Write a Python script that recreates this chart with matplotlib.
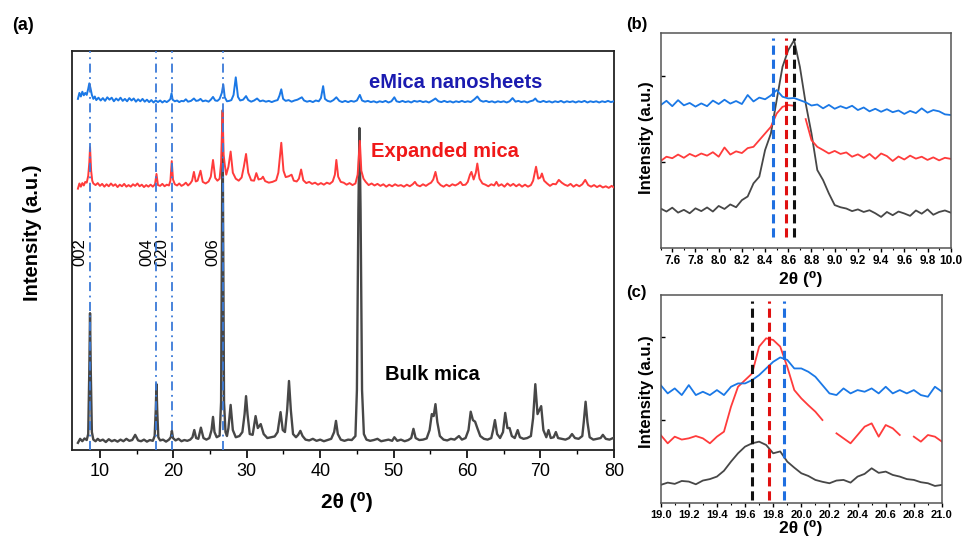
import numpy as np
import matplotlib
matplotlib.use("Agg")
import matplotlib.pyplot as plt
from matplotlib.ticker import MultipleLocator

plt.rcParams['font.family'] = ['Liberation Sans', 'DejaVu Sans']

# ---------------- (a) full XRD patterns (stacked, arbitrary units) ----------------
bulk_x = [7.0, 7.3, 7.6, 7.9, 8.2, 8.4, 8.55, 8.65, 8.75, 8.9, 9.1, 9.4, 9.7, 10.0, 10.4, 10.8, 11.2, 11.6,
          12.0, 12.4, 12.8, 13.2, 13.6, 14.0, 14.4, 14.8, 15.2, 15.6, 16.0, 16.4, 16.8, 17.2, 17.45, 17.6,
          17.7, 17.8, 17.95, 18.2, 18.6, 19.0, 19.4, 19.65, 19.8, 19.95, 20.3, 20.7, 21.1, 21.5, 21.9, 22.3,
          22.6, 22.85, 23.1, 23.4, 23.75, 24.1, 24.5, 24.9, 25.2, 25.4, 25.6, 25.9, 26.3, 26.5, 26.6, 26.7,
          26.8, 26.9, 27.1, 27.3, 27.5, 27.8, 28.1, 28.5, 29.0, 29.4, 29.7, 29.9, 30.1, 30.4, 30.8, 31.2,
          31.5, 31.9, 32.3, 32.8, 33.3, 33.8, 34.2, 34.6, 34.9, 35.2, 35.5, 35.75, 36.0, 36.3, 36.7, 37.0,
          37.3, 37.6, 38.0, 38.5, 39.0, 39.5, 40.0, 40.5, 41.0, 41.5, 41.9, 42.15, 42.4, 42.8, 43.3, 43.8,
          44.3, 44.8, 45.0, 45.2, 45.35, 45.5, 45.7, 45.95, 46.3, 46.8, 47.3, 47.8, 48.3, 48.8, 49.3, 49.8,
          50.1, 50.5, 51.0, 51.5, 52.0, 52.4, 52.7, 53.0, 53.5, 54.0, 54.5, 54.9, 55.2, 55.45, 55.7, 55.95,
          56.3, 56.8, 57.3, 57.8, 58.3, 58.9, 59.3, 59.8, 60.2, 60.5, 60.8, 61.1, 61.4, 61.8, 62.3, 62.8,
          63.3, 63.55, 63.8, 64.1, 64.5, 64.9, 65.2, 65.5, 65.8, 66.1, 66.5, 66.9, 67.2, 67.7, 68.2, 68.7,
          69.0, 69.3, 69.6, 70.1, 70.4, 70.8, 71.1, 71.4, 71.8, 72.1, 72.4, 72.9, 73.4, 73.9, 74.3, 74.7,
          75.2, 75.7, 75.9, 76.15, 76.4, 76.7, 77.2, 77.7, 78.2, 78.5, 78.9, 79.4, 79.9]
bulk_y = [1.8, 2.8, 2.2, 2.9, 2.5, 4.0, 20.0, 34.3, 20.0, 4.5, 2.6, 2.2, 2.8, 2.3, 2.6, 2.0, 2.7, 2.2,
          2.5, 2.1, 2.6, 2.2, 2.8, 2.3, 2.5, 3.8, 2.4, 2.2, 2.6, 2.1, 2.5, 2.3, 3.5, 10.0,
          16.5, 10.0, 3.2, 2.4, 2.6, 2.1, 2.6, 3.2, 4.8, 3.0, 2.4, 2.8, 2.2, 2.5, 2.3, 2.6,
          3.2, 5.0, 3.0, 2.8, 5.6, 3.0, 2.6, 3.0, 5.0, 8.3, 4.5, 3.2, 3.6, 12.0, 50.0, 85.0,
          50.0, 12.0, 4.5, 3.5, 5.5, 11.3, 5.0, 3.2, 3.5, 4.5, 9.0, 13.5, 9.0, 4.0, 3.8, 8.5,
          5.5, 6.5, 4.0, 3.0, 3.2, 3.4, 4.5, 9.5, 5.0, 4.5, 10.0, 17.3, 10.0, 4.0, 3.2, 3.8,
          4.8, 3.5, 2.6, 2.4, 2.8, 2.3, 2.6, 2.2, 2.5, 2.8, 4.5, 7.3, 4.0, 2.6, 2.3, 2.6,
          2.5, 3.5, 15.0, 60.0, 80.7, 60.0, 15.0, 4.0, 2.6, 2.3, 2.5, 2.8, 2.2, 2.4, 2.6, 2.3,
          3.2, 2.3, 2.6, 2.2, 2.5, 3.0, 5.3, 3.0, 2.5, 2.6, 2.9, 5.0, 9.0, 8.5, 11.5, 7.0,
          3.5, 2.6, 2.4, 2.8, 2.6, 3.5, 2.6, 3.0, 5.0, 9.6, 7.5, 7.1, 5.5, 3.5, 2.8, 2.6,
          3.0, 5.0, 7.5, 4.0, 3.0, 4.5, 9.3, 5.5, 5.5, 3.5, 3.0, 5.0, 3.2, 2.8, 3.0, 3.5,
          8.0, 16.5, 9.0, 11.0, 5.0, 3.2, 5.0, 3.0, 3.2, 4.5, 3.0, 2.8, 2.6, 3.0, 4.0, 3.0,
          2.8, 3.5, 7.0, 12.1, 7.0, 3.2, 2.6, 2.8, 3.0, 3.8, 2.8, 2.6, 3.0]

expanded_x = [7.0, 7.2, 7.4, 7.6, 7.8, 8.0, 8.2, 8.4, 8.55, 8.65, 8.8, 8.95, 9.1, 9.4, 9.7, 10.0, 10.3,
              10.6, 10.9, 11.2, 11.5, 11.8, 12.1, 12.4, 12.7, 13.0, 13.3, 13.6, 13.9, 14.2, 14.5, 14.8,
              15.1, 15.4, 15.7, 16.0, 16.3, 16.6, 16.9, 17.2, 17.5, 17.7, 17.9, 18.2, 18.5, 18.8, 19.1,
              19.4, 19.6, 19.78, 19.95, 20.2, 20.5, 20.8, 21.1, 21.4, 21.7, 22.0, 22.3, 22.55, 22.8,
              23.05, 23.3, 23.7, 24.0, 24.4, 24.8, 25.1, 25.4, 25.7, 26.0, 26.3, 26.5, 26.7, 26.85,
              27.0, 27.2, 27.5, 27.8, 28.1, 28.5, 28.9, 29.3, 29.6, 29.9, 30.2, 30.6, 31.0, 31.3, 31.6,
              32.0, 32.2, 32.5, 33.0, 33.5, 34.0, 34.3, 34.7, 35.0, 35.3, 35.7, 36.1, 36.4, 36.8, 37.1,
              37.4, 37.7, 38.1, 38.5, 38.9, 39.3, 39.7, 40.1, 40.5, 40.9, 41.3, 41.7, 42.0, 42.2, 42.45,
              42.8, 43.2, 43.6, 44.0, 44.4, 44.8, 45.1, 45.4, 45.6, 45.9, 46.2, 46.6, 47.0, 47.4, 47.8,
              48.2, 48.6, 49.0, 49.4, 49.8, 50.2, 50.6, 51.0, 51.4, 51.8, 52.2, 52.6, 52.9, 53.2, 53.6,
              54.0, 54.4, 54.8, 55.1, 55.4, 55.7, 56.0, 56.4, 56.8, 57.2, 57.6, 58.0, 58.4, 58.8, 59.1,
              59.4, 59.8, 60.1, 60.4, 60.6, 60.9, 61.2, 61.4, 61.7, 62.1, 62.5, 62.9, 63.3, 63.7, 64.0,
              64.3, 64.7, 65.1, 65.5, 65.9, 66.3, 66.7, 67.1, 67.5, 67.9, 68.3, 68.7, 69.0, 69.4, 69.7,
              70.0, 70.2, 70.5, 70.9, 71.3, 71.7, 72.1, 72.5, 72.9, 73.3, 73.7, 74.1, 74.5, 74.9, 75.3,
              75.7, 76.1, 76.5, 76.9, 77.3, 77.7, 78.1, 78.5, 78.9, 79.3, 79.7, 80.0]
expanded_y = [65.5, 66.8, 66.0, 66.9, 66.3, 67.2, 67.0, 68.7, 72.0, 75.9, 70.0, 67.5, 66.8, 66.4, 66.9, 66.2, 66.7,
              66.0, 66.6, 66.1, 66.8, 66.2, 66.6, 65.9, 66.5, 66.1, 66.7, 66.0, 66.4, 66.0, 66.6, 66.2,
              66.8, 66.1, 66.5, 65.9, 66.4, 66.0, 66.5, 66.0, 66.6, 69.2, 66.4, 66.2, 66.7, 66.1, 66.5,
              66.3, 67.5, 72.4, 67.8, 66.6, 66.3, 66.8, 66.2, 66.5, 67.0, 66.3, 66.8, 67.5, 69.7,
              67.3, 67.5, 70.0, 67.2, 66.8, 67.3, 68.5, 72.7, 68.2, 67.5, 68.0, 72.0, 85.2, 74.0,
              71.5, 69.0, 71.0, 74.8, 69.5, 68.0, 67.5, 68.3, 71.0, 74.2, 69.5, 67.6, 67.5, 69.4, 67.8,
              68.0, 68.5, 67.4, 67.0, 67.2, 67.6, 69.5, 77.0, 70.0, 68.4, 68.6, 69.0, 67.5, 67.3, 68.0,
              70.3, 67.6, 66.9, 67.2, 66.7, 67.0, 66.5, 66.9, 66.5, 67.0, 66.7, 67.3, 69.0, 72.7, 68.5,
              67.2, 67.0, 66.5, 66.9, 66.4, 66.8, 69.0, 77.5, 70.0, 68.0, 67.2, 66.4, 66.8, 66.3, 66.7,
              66.2, 66.6, 66.0, 66.5, 66.1, 66.6, 66.2, 66.4, 66.0, 66.5, 66.1, 66.6, 67.2, 66.4, 66.1,
              66.6, 66.2, 66.7, 67.0, 67.8, 69.7, 67.2, 66.4, 66.0, 66.5, 66.1, 66.6, 66.3, 66.7, 67.2,
              66.4, 66.5, 67.2, 69.0, 69.7, 67.8, 69.5, 71.8, 68.0, 66.8, 66.5, 66.1, 66.6, 66.3, 67.2,
              66.2, 66.6, 66.0, 66.8, 66.2, 66.7, 66.1, 66.6, 66.0, 66.5, 66.0, 66.4, 67.5, 71.0, 68.0,
              68.3, 69.3, 67.5, 66.8, 66.2, 66.7, 66.6, 67.7, 67.0, 66.5, 66.2, 66.7, 66.0, 66.5, 66.1,
              66.6, 67.7, 66.4, 66.0, 66.4, 65.9, 66.3, 65.8, 66.1, 65.7, 66.2, 65.8]

emica_x = [7.0, 7.2, 7.4, 7.6, 7.8, 8.0, 8.2, 8.4, 8.55, 8.7, 8.9, 9.1, 9.3, 9.5, 9.8, 10.1, 10.4, 10.7,
           11.0, 11.3, 11.6, 11.9, 12.2, 12.5, 12.8, 13.1, 13.4, 13.7, 14.0, 14.3, 14.6, 14.9, 15.2,
           15.5, 15.8, 16.1, 16.4, 16.7, 17.0, 17.3, 17.6, 17.9, 18.2, 18.5, 18.8, 19.1, 19.4, 19.6,
           19.75, 19.9, 20.2, 20.5, 20.8, 21.1, 21.4, 21.7, 22.0, 22.4, 22.8, 23.1, 23.4, 23.7, 24.0,
           24.4, 24.8, 25.1, 25.4, 25.7, 26.0, 26.3, 26.6, 26.8, 27.0, 27.3, 27.6, 27.9, 28.2, 28.5,
           28.8, 29.1, 29.5, 29.9, 30.2, 30.6, 31.0, 31.4, 31.8, 32.2, 32.6, 33.0, 33.4, 33.8, 34.2,
           34.45, 34.7, 34.95, 35.3, 35.7, 36.1, 36.5, 36.9, 37.2, 37.5, 37.8, 38.2, 38.6, 39.0, 39.4,
           39.8, 40.1, 40.4, 40.65, 41.0, 41.4, 41.8, 42.2, 42.6, 43.0, 43.4, 43.8, 44.2, 44.6, 45.0,
           45.4, 45.7, 46.1, 46.5, 46.9, 47.3, 47.7, 48.1, 48.5, 48.9, 49.3, 49.7, 50.1, 50.4, 50.8,
           51.2, 51.6, 52.0, 52.4, 52.8, 53.2, 53.6, 54.0, 54.4, 54.8, 55.2, 55.7, 56.1, 56.5, 56.9,
           57.3, 57.7, 58.1, 58.5, 58.9, 59.3, 59.7, 60.1, 60.5, 61.0, 61.4, 61.8, 62.2, 62.6, 63.0,
           63.4, 63.8, 64.2, 64.6, 65.0, 65.4, 65.8, 66.2, 66.6, 67.0, 67.4, 67.8, 68.2, 68.6, 69.0,
           69.3, 69.6, 70.0, 70.4, 70.8, 71.2, 71.6, 72.0, 72.4, 72.8, 73.2, 73.6, 74.0, 74.4, 74.8,
           75.2, 75.6, 76.0, 76.4, 76.8, 77.2, 77.6, 78.0, 78.4, 78.8, 79.2, 79.6, 80.0]
emica_y = [88.0, 89.5, 88.6, 89.8, 88.9, 89.5, 89.0, 90.5, 91.9, 90.8, 89.0, 88.0, 88.6, 87.7, 88.3, 87.6, 88.2, 87.5,
           88.4, 87.8, 88.3, 87.4, 88.1, 87.6, 88.3, 87.5, 88.0, 87.4, 88.2, 87.6, 88.1, 87.3, 87.9,
           87.4, 88.0, 87.3, 87.8, 87.2, 87.7, 87.1, 87.6, 87.2, 87.6, 87.1, 87.5, 87.2, 87.6, 88.0,
           89.4, 87.8, 87.4, 87.6, 87.2, 87.5, 87.4, 87.9, 87.3, 87.5, 88.1, 87.5, 87.6, 88.0, 87.4,
           87.6, 87.3, 87.8, 88.5, 87.6, 87.5, 88.0, 89.5, 91.6, 88.4, 87.4, 87.5, 87.7, 89.0, 93.4,
           88.5, 87.6, 87.8, 88.7, 87.7, 87.3, 87.6, 88.1, 87.4, 87.6, 87.3, 87.5, 87.2, 87.5, 87.7,
           88.8, 90.4, 88.0, 87.5, 87.7, 87.3, 87.6, 87.8, 88.1, 88.4, 87.6, 87.3, 87.5, 87.2, 87.6,
           87.4, 88.2, 91.2, 88.0, 87.5, 87.3, 87.7, 88.4, 87.5, 87.2, 87.5, 87.2, 87.5, 87.3, 87.6,
           89.0, 87.6, 87.3, 87.5, 87.2, 87.4, 87.1, 87.4, 87.2, 87.5, 87.1, 87.4, 88.4, 87.4, 87.2,
           87.5, 87.2, 87.4, 87.1, 87.5, 87.3, 87.5, 87.2, 87.4, 87.1, 87.5, 88.1, 87.4, 87.2, 87.5,
           87.2, 87.4, 87.1, 87.4, 87.2, 87.5, 87.2, 87.4, 87.2, 87.9, 88.6, 87.6, 87.3, 87.5, 87.2,
           87.4, 87.1, 87.4, 87.2, 87.4, 87.1, 87.4, 88.2, 87.3, 87.5, 87.2, 87.4, 87.1, 87.4, 87.6,
           88.1, 87.4, 87.2, 87.5, 87.2, 87.4, 87.1, 87.4, 87.2, 87.5, 87.1, 87.4, 87.2, 87.4, 87.1,
           87.4, 87.2, 87.5, 87.1, 87.4, 87.2, 87.4, 87.1, 87.4, 87.2, 87.5, 87.2, 87.4]

reflections = [8.65, 17.7, 19.8, 26.7]
reflection_labels = ["002", "004", "020", "006"]

# ---------------- (b) 002 region ----------------
b_x = [7.50, 7.55, 7.60, 7.65, 7.70, 7.75, 7.80, 7.85, 7.90, 7.95, 8.00, 8.05, 8.10, 8.15, 8.20, 8.25,
       8.30, 8.35, 8.40, 8.45, 8.50, 8.55, 8.60, 8.65, 8.70, 8.75, 8.80, 8.85, 8.90, 8.95, 9.00, 9.05,
       9.10, 9.15, 9.20, 9.25, 9.30, 9.35, 9.40, 9.45, 9.50, 9.55, 9.60, 9.65, 9.70, 9.75, 9.80, 9.85,
       9.90, 9.95, 10.00]
b_bulk = [18.4, 17.0, 18.8, 16.5, 17.8, 16.2, 18.5, 17.2, 18.9, 17.0, 19.6, 18.2, 20.3, 19.0, 22.3, 24.0,
          30.1, 33.2, 45.6, 53.3, 68.8, 84.3, 92.1, 96.7, 84.3, 67.3, 53.3, 36.3, 31.6, 25.4, 20.0, 19.0,
          18.4, 17.2, 18.0, 16.8, 17.6, 16.2, 14.5, 16.8, 15.3, 17.0, 16.1, 15.0, 17.5, 16.0, 18.0, 15.5,
          16.8, 17.5, 16.5]
b_expanded = [40.5, 42.5, 41.8, 43.5, 42.0, 43.8, 42.6, 44.0, 43.0, 44.6, 42.5, 46.8, 43.5, 45.0, 44.2, 46.5,
              47.1, 50.2, 53.3, 56.4, 62.6, 65.7, 66.5, 66.2, np.nan, 60.0, 50.2, 47.1, 45.6, 44.0, 45.2, 43.8,
              44.5, 42.5, 43.6, 42.0, 43.8, 41.5, 44.0, 42.8, 40.5, 42.6, 41.2, 43.0, 41.6, 42.5, 41.0, 42.2,
              40.8, 42.0, 41.5]
b_emica = [66.5, 68.5, 66.0, 68.8, 66.4, 67.5, 65.8, 67.3, 66.0, 68.6, 67.0, 69.0, 67.2, 68.4, 67.0, 71.2,
           68.2, 70.0, 69.2, 71.0, 73.5, 70.4, 69.6, 69.8, 68.8, 67.8, 66.3, 66.8, 65.0, 66.6, 64.8, 66.0,
           65.0, 66.2, 64.2, 65.4, 63.6, 64.8, 63.4, 64.6, 63.2, 64.0, 62.4, 63.8, 62.8, 65.0, 63.0, 64.2,
           63.6, 62.2, 61.9]
b_centres = [8.466, 8.578, 8.652]  # eMica, expanded, bulk

# ---------------- (c) 020 region ----------------
c_x = [19.00, 19.05, 19.10, 19.15, 19.20, 19.25, 19.30, 19.35, 19.40, 19.45, 19.50, 19.55, 19.60, 19.65,
       19.70, 19.75, 19.80, 19.85, 19.90, 19.95, 20.00, 20.05, 20.10, 20.15, 20.20, 20.25, 20.30, 20.35,
       20.40, 20.45, 20.50, 20.55, 20.60, 20.65, 20.70, 20.75, 20.80, 20.85, 20.90, 20.95, 21.00]
c_bulk = [8.7, 9.8, 9.2, 10.6, 10.3, 9.0, 10.8, 11.5, 12.7, 15.5, 19.9, 23.9, 27.1, 28.7,
          29.5, 27.9, 23.9, 24.8, 19.9, 17.0, 14.3, 13.0, 11.1, 10.2, 9.5, 10.8, 11.1, 9.8,
          12.7, 14.0, 16.7, 14.5, 15.1, 13.5, 12.7, 11.5, 11.1, 10.0, 9.5, 8.2, 8.7]
c_expanded = [32.7, 28.7, 31.9, 30.5, 31.1, 32.2, 31.1, 28.7, 31.9, 34.3, 46.3, 55.9, 59.1, 62.3,
              75.2, 79.2, 78.4, 75.2, 65.5, 54.3, 50.3, 47.0, 43.9, 39.9, np.nan, 33.5, 31.1, 28.7,
              32.7, 36.7, 38.3, 31.9, 37.5, 35.9, 32.7, np.nan, 31.9, 29.5, 32.7, 31.9, 29.5]
c_emica = [56.7, 52.7, 55.1, 51.9, 56.7, 51.9, 53.5, 51.9, 54.3, 51.9, 55.9, 57.5, 57.5, 59.1,
           61.5, 64.7, 67.9, 70.0, 68.8, 64.7, 64.7, 63.1, 60.7, 56.7, 52.7, 51.9, 55.1, 52.7,
           54.3, 53.5, 55.1, 52.7, 55.9, 52.7, 54.3, 52.7, 54.3, 51.9, 51.1, 55.9, 53.5]
c_centres = [19.65, 19.77, 19.877]  # bulk, expanded, eMica

BLUE = "#1a78e6"
RED = "#ff3b3b"
GREY = "#474747"
DEG = "2θ (\u2070)"

fig = plt.figure(figsize=(9.71, 5.37), dpi=100)

# ---------------- panel (a) ----------------
ax = fig.add_axes([0.0742, 0.162, 0.558, 0.743])
ax.plot(bulk_x, bulk_y, color=GREY, lw=1.7, zorder=3)
ax.plot(expanded_x, expanded_y, color=RED, lw=1.4, zorder=4)
ax.plot(emica_x, emica_y, color=BLUE, lw=1.4, zorder=4)
for xr in reflections:
    ax.axvline(xr, color="#3a7ad8", lw=1.3, ls=(0, (5, 2.5, 1, 2.5)), zorder=5)
for xr, lab in zip(reflections, reflection_labels):
    ax.text(xr - 0.35, 49.5, lab, rotation=90, ha="right", va="center", fontsize=12)
ax.text(46.7, 92, "eMica nanosheets", color="#1b1bb0", fontsize=14.5, fontweight="bold", va="center")
ax.text(46.9, 74.7, "Expanded mica", color="#f01818", fontsize=14.5, fontweight="bold", va="center")
ax.text(48.8, 18.8, "Bulk mica", color="black", fontsize=14.5, fontweight="bold", va="center")
ax.set_xlim(6.2, 80)
ax.set_ylim(0, 100)
ax.xaxis.set_major_locator(MultipleLocator(10))
ax.xaxis.set_minor_locator(MultipleLocator(5))
ax.set_yticks([])
ax.tick_params(axis="x", which="major", direction="out", length=6, width=1.2, labelsize=13, pad=3)
ax.tick_params(axis="x", which="minor", direction="out", length=3, width=1.0)
ax.tick_params(axis="x", top=False)
for sp in ax.spines.values():
    sp.set_linewidth(1.3)
    sp.set_color("#222222")
fig.text(32 / 971, 1 - 233 / 537, "Intensity (a.u.)", rotation=90, ha="center", va="center",
         fontsize=14.5, fontweight="bold")
fig.text(347 / 971, 1 - 502 / 537, DEG, ha="center", va="center", fontsize=15, fontweight="bold")
fig.text(12 / 971, 1 - 25 / 537, "(a)", ha="left", va="center", fontsize=13, fontweight="bold")


def zoom_panel(rect, x, series, colors, centres, centre_colors, xlim, vspan, ticks, tick_size):
    axz = fig.add_axes(rect)
    for ys, col in zip(series, colors):
        axz.plot(x, ys, color=col, lw=1.3)
    for xc, col in zip(centres, centre_colors):
        axz.axvline(xc, ymin=vspan[0], ymax=vspan[1], color=col, lw=2.2, ls=(0, (3, 1.6)))
    axz.set_xlim(*xlim)
    axz.set_ylim(0, 100)
    axz.set_xticks(ticks)
    axz.set_xticklabels(["%.1f" % t for t in ticks], fontweight="bold", fontsize=tick_size)
    axz.xaxis.set_minor_locator(MultipleLocator(0.1))
    axz.set_yticks([40, 80])
    axz.set_yticklabels([])
    axz.tick_params(axis="y", direction="in", length=3, width=1.0)
    axz.tick_params(axis="x", which="major", direction="out", length=3, width=1.0, pad=2)
    axz.tick_params(axis="x", which="minor", direction="out", length=1.5, width=0.8)
    for sp in axz.spines.values():
        sp.set_linewidth(1.1)
        sp.set_color("#555555")
    return axz


b_ticks = [round(7.6 + 0.2 * i, 1) for i in range(13)]
c_ticks = [round(19.0 + 0.2 * i, 1) for i in range(11)]

axb = zoom_panel([0.6804, 0.538, 0.2987, 0.4004], b_x, [b_bulk, b_expanded, b_emica],
                 [GREY, RED, BLUE], b_centres, ["#1f6fe0", "#e01010", "#111111"],
                 (7.5, 10.0), (0.05, 0.975), b_ticks, 8.5)

axc = zoom_panel([0.6804, 0.0633, 0.2897, 0.3873], c_x, [c_bulk, c_expanded, c_emica],
                 [GREY, RED, BLUE], c_centres, ["#111111", "#e01010", "#1f6fe0"],
                 (19.0, 21.0), (0.015, 0.97), c_ticks, 8)

fig.text(646 / 971, 1 - 138 / 537, "Intensity (a.u.)", rotation=90, ha="center", va="center",
         fontsize=12, fontweight="bold")
fig.text(646 / 971, 1 - 392 / 537, "Intensity (a.u.)", rotation=90, ha="center", va="center",
         fontsize=12, fontweight="bold")
fig.text(801 / 971, 1 - 287 / 537, DEG, ha="center", va="bottom", fontsize=12.5, fontweight="bold")
fig.text(801 / 971, 1 / 537, DEG, ha="center", va="bottom", fontsize=12.5, fontweight="bold")
fig.text(626 / 971, 1 - 25 / 537, "(b)", ha="left", va="center", fontsize=12, fontweight="bold")
fig.text(626 / 971, 1 - 293 / 537, "(c)", ha="left", va="center", fontsize=12, fontweight="bold")

fig.savefig("out.png", dpi=100)
